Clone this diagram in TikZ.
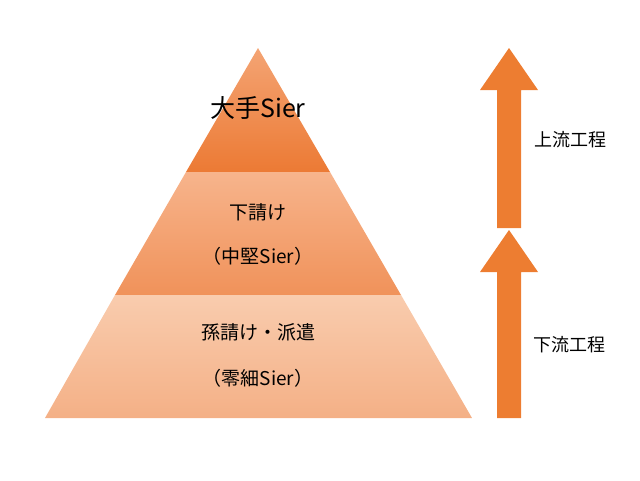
\documentclass[tikz,border=0pt]{standalone}
\usepackage{fontspec}
\newfontfamily\cjk{Noto Sans CJK JP}
\begin{document}
\begin{tikzpicture}[x=1pt,y=-1pt,
  lbl/.style={font=\cjk\fontsize{19}{22}\selectfont,text=black},
  arr/.style={fill=orange!80!red!90!white,draw=none}]
\definecolor{arrc}{HTML}{ED7D31}
\useasboundingbox (0,0) rectangle (640,480);
% tiers
\shade[top color={rgb,255:red,244;green,164;blue,116},bottom color={rgb,255:red,236;green,122;blue,52}]
  (258,48) -- (330,172) -- (186,172) -- cycle;
\shade[top color={rgb,255:red,247;green,180;blue,140},bottom color={rgb,255:red,240;green,146;blue,90}]
  (186,172) -- (330,172) -- (401,295) -- (115,295) -- cycle;
\shade[top color={rgb,255:red,249;green,204;blue,174},bottom color={rgb,255:red,244;green,176;blue,134}]
  (115,295) -- (401,295) -- (472,418) -- (45,418) -- cycle;
\node[lbl,font=\cjk\fontsize{25}{28}\selectfont] (t1) at (258,108) {大手Sier};
\node[lbl] (t2a) at (258,212) {下請け};
\node[lbl] (t2b) at (258,256) {（中堅Sier）};
\node[lbl] (t3a) at (258,332) {孫請け・派遣};
\node[lbl] (t3b) at (258,378) {（零細Sier）};
% arrows
\fill[arrc] (497,228) -- (497,90) -- (480,90) -- (509,48) -- (538,90) -- (521,90) -- (521,228) -- cycle;
\fill[arrc] (497,418) -- (497,272) -- (480,272) -- (509,230) -- (538,272) -- (521,272) -- (521,418) -- cycle;
\node[lbl,font=\cjk\fontsize{18}{21}\selectfont] (u) at (570,140) {上流工程};
\node[lbl,font=\cjk\fontsize{18}{21}\selectfont] (d) at (569,345) {下流工程};
\end{tikzpicture}
\end{document}
